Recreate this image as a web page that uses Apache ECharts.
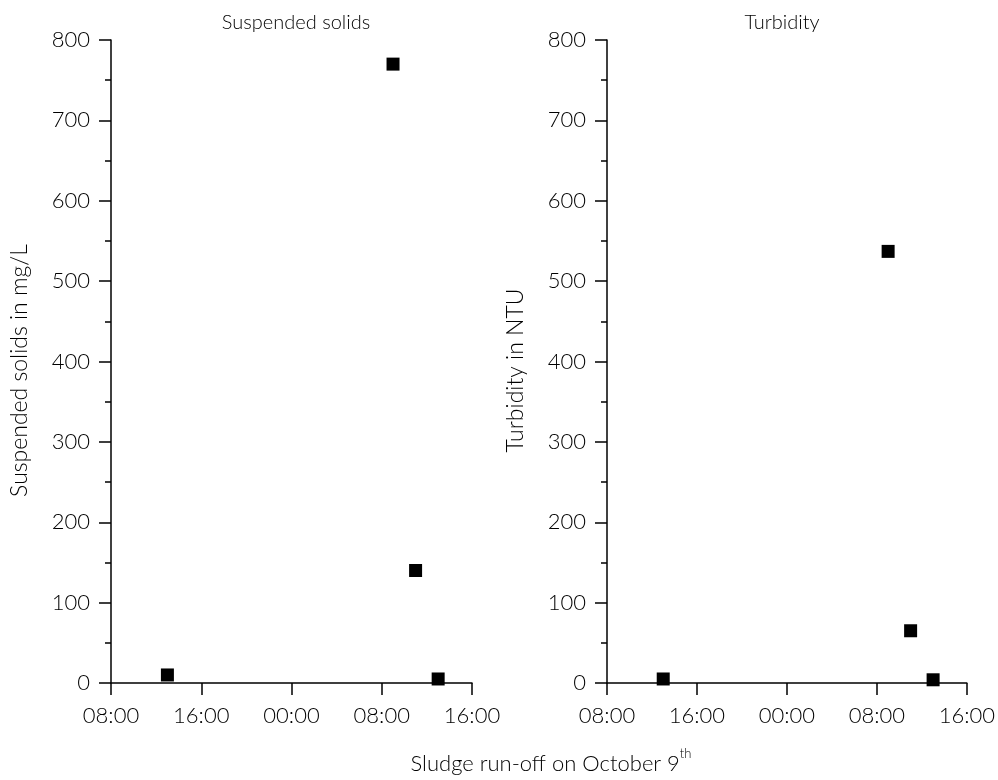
<!DOCTYPE html>
<html>
<head>
<meta charset="utf-8">
<script src="https://cdn.jsdelivr.net/npm/echarts@6/dist/echarts.min.js"></script>
<style>
  html, body { margin: 0; padding: 0; background: #fff; }
  #chart { width: 998px; height: 780px; }
</style>
</head>
<body>
<div id="chart"></div>
<script>
// Sampling times (day of October + clock time)
const sampleDays = [8, 9, 9, 9];
const sampleClock = ['13:00', '09:00', '11:00', '13:00'];

// Measured values
const suspendedSolids = [10, 770, 140, 5];   // mg/L
const turbidity = [5, 537, 65, 4];           // NTU

// Axis tick labels along time (every 8 h starting 08:00 on October 8)
const timeTicks = ['08:00', '16:00', '00:00', '08:00', '16:00'];

const panelTitles = ['Suspended solids', 'Turbidity'];
const yNames = ['Suspended solids in mg/L', 'Turbidity in NTU'];

// Hours elapsed since October 8, 08:00
function toHours(day, clock) {
  const [h, m] = clock.split(':').map(Number);
  return (day - 8) * 24 + h + m / 60 - 8;
}
const xHours = sampleDays.map((d, i) => toHours(d, sampleClock[i]));

const FONT = 'Lato';
const WEIGHT = 300;
const TICK_SIZE = 22;
const axisColor = '#000';

function xAxis(gridIndex) {
  return {
    type: 'value', gridIndex, min: 0, max: 32, interval: 8,
    axisLine: { show: true, onZero: false, lineStyle: { color: axisColor, width: 1.5 } },
    axisTick: { show: true, inside: false, length: 12, lineStyle: { color: axisColor, width: 1.5 } },
    minorTick: { show: false },
    splitLine: { show: false },
    axisLabel: {
      color: '#000', fontFamily: FONT, fontWeight: WEIGHT, fontSize: TICK_SIZE, margin: 22,
      formatter: v => timeTicks[Math.round(v / 8)] || ''
    }
  };
}

function yAxis(gridIndex) {
  return {
    type: 'value', gridIndex, min: 0, max: 800, interval: 100,
    name: yNames[gridIndex], nameLocation: 'middle', nameGap: 80,
    nameTextStyle: {
      color: '#000', fontFamily: FONT, fontWeight: WEIGHT, fontSize: 23,
      padding: [0, 18, 0, 0]
    },
    axisLine: { show: true, lineStyle: { color: axisColor, width: 1.5 } },
    axisTick: { show: true, inside: false, length: 12, lineStyle: { color: axisColor, width: 1.5 } },
    minorTick: { show: true, splitNumber: 2, length: 6, lineStyle: { color: axisColor, width: 1.5 } },
    splitLine: { show: false },
    axisLabel: { color: '#000', fontFamily: FONT, fontWeight: WEIGHT, fontSize: TICK_SIZE, margin: 21 }
  };
}

const titleStyle = { color: '#000', fontFamily: FONT, fontSize: 20, fontWeight: WEIGHT };

const chart = echarts.init(document.getElementById('chart'), null, { renderer: 'canvas' });
chart.setOption({
  backgroundColor: '#fff',
  animation: false,
  title: [
    { text: panelTitles[0], left: 291, top: 8, textAlign: 'center', textStyle: titleStyle },
    { text: panelTitles[1], left: 777, top: 8, textAlign: 'center', textStyle: titleStyle },
    { text: '{a|Sludge run-off on October 9}{s|th}', left: 546, top: 742, textAlign: 'center',
      textStyle: {
        fontWeight: WEIGHT,
        rich: {
          a: { color: '#000', fontFamily: FONT, fontWeight: WEIGHT, fontSize: 22, verticalAlign: 'bottom', lineHeight: 28 },
          s: { color: '#000', fontFamily: FONT, fontWeight: WEIGHT, fontSize: 13, verticalAlign: 'top', lineHeight: 28 }
        }
      } }
  ],
  grid: [
    { left: 111, right: 526, top: 40, bottom: 97 },
    { left: 607, right: 30, top: 40, bottom: 97 }
  ],
  xAxis: [xAxis(0), xAxis(1)],
  yAxis: [yAxis(0), yAxis(1)],
  series: [
    { type: 'scatter', xAxisIndex: 0, yAxisIndex: 0, symbol: 'rect', symbolSize: 13,
      itemStyle: { color: '#000', opacity: 1 }, clip: false,
      data: xHours.map((x, i) => [x, suspendedSolids[i]]) },
    { type: 'scatter', xAxisIndex: 1, yAxisIndex: 1, symbol: 'rect', symbolSize: 13,
      itemStyle: { color: '#000', opacity: 1 }, clip: false,
      data: xHours.map((x, i) => [x, turbidity[i]]) }
  ]
});
</script>
</body>
</html>
